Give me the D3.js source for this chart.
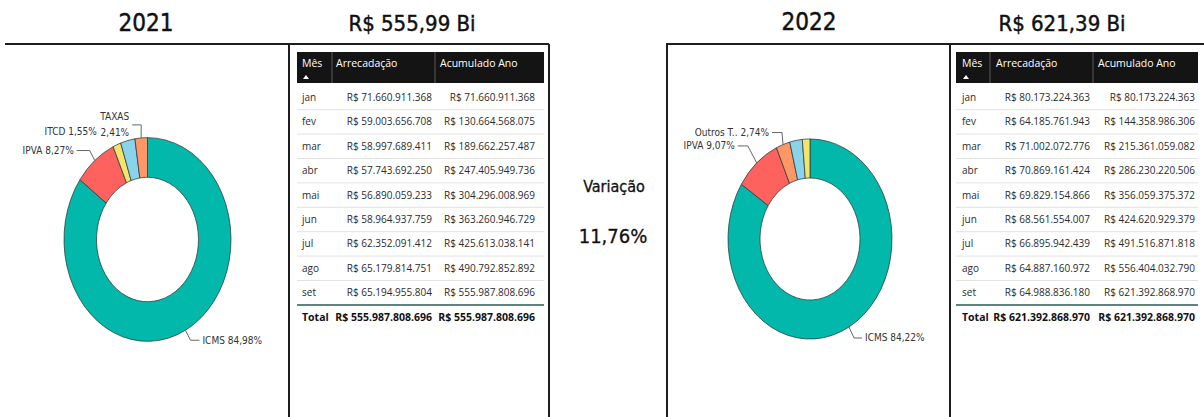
<!DOCTYPE html>
<html>
<head>
<meta charset="utf-8">
<script src="https://cdn.jsdelivr.net/npm/d3@7"></script>
<style>
  body { margin: 0; background: #fff; }
  .din { font-family: "DejaVu Sans Condensed", "DejaVu Sans", sans-serif; }
  .tab { font-family: "Open Sans", "Noto Sans", sans-serif; }
</style>
</head>
<body>
<svg id="chart"></svg>
<script>
w = 1204;
h = 417;

// composicao da arrecadacao (%)
var categorias2021 = ["ICMS", "IPVA", "ITCD", "Outros Tributos", "TAXAS"];
var percentuais2021 = [84.98, 8.27, 1.55, 2.79, 2.41];
var cores2021 = ["#01B8AA", "#FD625E", "#F5E36C", "#8AD4EB", "#FE9666"];

var categorias2022 = ["ICMS", "IPVA", "Outros Tributos", "TAXAS", "ITCD"];
var percentuais2022 = [84.22, 9.07, 2.74, 2.47, 1.50];
var cores2022 = ["#01B8AA", "#FD625E", "#FE9666", "#8AD4EB", "#F5E36C"];

// tabela mensal
var meses = ["jan", "fev", "mar", "abr", "mai", "jun", "jul", "ago", "set"];
var arrecadacao2021 = [71660911368, 59003656708, 58997689411, 57743692250, 56890059233,
                       58964937759, 62352091412, 65179814751, 65194955804];
var acumulado2021 = [71660911368, 130664568075, 189662257487, 247405949736, 304296008969,
                     363260946729, 425613038141, 490792852892, 555987808696];
var arrecadacao2022 = [80173224363, 64185761943, 71002072776, 70869161424, 69829154866,
                       68561554007, 66895942439, 64887160972, 64988836180];
var acumulado2022 = [80173224363, 144358986306, 215361059082, 286230220506, 356059375372,
                     424620929379, 491516871818, 556404032790, 621392868970];
var totais2021 = [555987808696, 555987808696];
var totais2022 = [621392868970, 621392868970];

var titulos = ["2021", "R$ 555,99 Bi", "2022", "R$ 621,39 Bi"];
var variacao = ["Variação", "11,76%"];

var ptBR = d3.formatLocale({decimal: ",", thousands: ".", grouping: [3], currency: ["R$ ", ""]});
var fmtMoeda = function(v) { return "R$ " + ptBR.format(",.0f")(v); };
var fmtPct = ptBR.format(",.2f");

var svg = d3.select('#chart').attr('width', w).attr('height', h);

// molduras
var frame = svg.append('g').attr('stroke', '#1e1e1e').attr('stroke-width', 2).attr('fill', 'none');
frame.append('path').attr('d', 'M5,44H549M289,44V417M549,44V417');
frame.append('path').attr('d', 'M667,417V44H1204M950,44V417');

// titulos
svg.append('g').attr('class', 'din').attr('fill', '#111').attr('text-anchor', 'middle')
  .attr('stroke', '#111').attr('stroke-width', 0.45)
  .selectAll('text')
  .data([[146, 31, 24], [412, 31, 22], [809, 30, 24], [1062, 31, 22]])
  .enter().append('text')
    .attr('x', function(d) { return d[0]; })
    .attr('y', function(d) { return d[1]; })
    .attr('font-size', function(d) { return d[2]; })
    .text(function(d, i) { return titulos[i]; });

var vg = svg.append('g').attr('class', 'din').attr('fill', '#111').attr('text-anchor', 'middle')
  .attr('stroke', '#111').attr('stroke-width', 0.3);
vg.append('text').attr('x', 614).attr('y', 192).attr('font-size', 16).text(variacao[0]);
vg.append('text').attr('x', 613).attr('y', 243).attr('font-size', 20).text(variacao[1]);

function drawDonut(cfg) {
  var pie = d3.pie().sort(null).value(function(d) { return d; });
  var arcs = pie(cfg.valores);
  var arc = d3.arc().innerRadius(cfg.r0).outerRadius(cfg.r1);

  var g = svg.append('g')
    .attr('transform', 'translate(' + cfg.cx + ',' + cfg.cy + ') scale(1,' + cfg.sy + ')');
  g.selectAll('path').data(arcs).enter().append('path')
    .attr('d', arc)
    .attr('fill', function(d, i) { return cfg.cores[i]; })
    .attr('stroke', '#2a3a38')
    .attr('stroke-opacity', 0.75)
    .attr('stroke-width', 1)
    .attr('vector-effect', 'non-scaling-stroke');

  var lg = svg.append('g').attr('class', 'din');
  cfg.rotulos.forEach(function(r) {
    var a = (arcs[r.i].startAngle + arcs[r.i].endAngle) / 2;
    var ax = cfg.cx + cfg.r1 * Math.sin(a);
    var ay = cfg.cy - cfg.r1 * Math.cos(a) * cfg.sy;
    var ex = ax + r.dx, ey = ay + r.dy, hx = ex + r.len;
    if (!r.semLinha) {
      lg.append('path')
        .attr('d', 'M' + ax + ',' + ay + 'L' + ex + ',' + ey + 'H' + hx)
        .attr('fill', 'none').attr('stroke', '#666').attr('stroke-width', 1);
    }
    var pct = fmtPct(cfg.valores[r.i]) + '%';
    var linhas = r.linhas ? [r.linhas[0], pct] : [(r.nome || cfg.nomes[r.i]) + ' ' + pct];
    var tx = r.len >= 0 ? hx + 3 : hx - 3;
    var t = lg.append('text')
      .attr('x', tx)
      .attr('text-anchor', r.len >= 0 ? 'start' : 'end')
      .attr('font-size', 10)
      .attr('fill', '#333');
    linhas.forEach(function(s, k) {
      t.append('tspan').attr('x', tx)
        .attr('y', ey + 3.5 + (k - (linhas.length - 1) / 2) * 16)
        .text(s);
    });
  });
}

drawDonut({
  cx: 147.5, cy: 239.5, r0: 51, r1: 83.5, sy: 1.22,
  valores: percentuais2021, nomes: categorias2021, cores: cores2021,
  rotulos: [
    {i: 0, dx: 5, dy: 10, len: 9},
    {i: 1, dx: -5, dy: -10, len: -13},
    {i: 2, dx: -17, dy: -13, len: -0.1, semLinha: true},
    {i: 4, dx: 0, dy: -13, len: -9, linhas: ["TAXAS"]}
  ]
});

drawDonut({
  cx: 810, cy: 239, r0: 50, r1: 82, sy: 1.22,
  valores: percentuais2022, nomes: categorias2022, cores: cores2022,
  rotulos: [
    {i: 0, dx: 5, dy: 11, len: 8},
    {i: 1, dx: -9, dy: -17, len: -10},
    {i: 2, dx: -1, dy: -12, len: -10, nome: "Outros T.."}
  ]
});

function drawTable(cfg) {
  var y = d3.scaleLinear().domain([0, 1]).range([97.5, 121.9]);
  var g = svg.append('g').attr('class', 'tab');

  g.append('rect').attr('x', cfg.x0).attr('y', 52).attr('width', cfg.x1 - cfg.x0).attr('height', 31)
    .attr('fill', '#141414');
  g.selectAll('line.sep').data(cfg.seps).enter().append('line')
    .attr('x1', function(d) { return d; }).attr('x2', function(d) { return d; })
    .attr('y1', 52).attr('y2', 83).attr('stroke', '#5a5a5a');
  var cab = ["Mês", "Arrecadação", "Acumulado Ano"];
  g.selectAll('text.cab').data(cab).enter().append('text')
    .attr('x', function(d, i) { return cfg.hx[i]; })
    .attr('y', 67).attr('font-size', 10.5).attr('fill', '#fff')
    .text(function(d) { return d; });
  g.append('path')
    .attr('d', 'M' + (cfg.hx[0] + 1) + ',79l3,-4l3,4z').attr('fill', '#fff');

  // linhas divisorias
  g.selectAll('line.row').data(meses.slice(0, -1)).enter().append('line')
    .attr('x1', cfg.x0).attr('x2', cfg.x1)
    .attr('y1', function(d, i) { return y(i + 0.5); })
    .attr('y2', function(d, i) { return y(i + 0.5); })
    .attr('stroke', '#e2e2e2');
  g.append('line').attr('x1', cfg.x0).attr('x2', cfg.x1)
    .attr('y1', y(meses.length - 0.5)).attr('y2', y(meses.length - 0.5))
    .attr('stroke', '#5f837f').attr('stroke-width', 2);

  var linhas = g.selectAll('g.linha').data(meses).enter().append('g')
    .attr('transform', function(d, i) { return 'translate(0,' + (y(i) + 3.5) + ')'; })
    .attr('font-size', 10).attr('fill', '#2b2b2b');
  linhas.append('text').attr('x', cfg.hx[0]).text(function(d) { return d; });
  linhas.append('text').attr('x', cfg.rx[0]).attr('text-anchor', 'end')
    .text(function(d, i) { return fmtMoeda(cfg.arrec[i]); });
  linhas.append('text').attr('x', cfg.rx[1]).attr('text-anchor', 'end')
    .text(function(d, i) { return fmtMoeda(cfg.acum[i]); });

  var tot = g.append('g').attr('transform', 'translate(0,' + (y(meses.length) + 3.5) + ')')
    .attr('font-size', 10.5).attr('font-weight', 'bold').attr('fill', '#111');
  tot.append('text').attr('x', cfg.hx[0]).text('Total');
  tot.selectAll('text.v').data(cfg.totais).enter().append('text')
    .attr('x', function(d, i) { return cfg.rx[i]; }).attr('text-anchor', 'end')
    .text(function(d) { return fmtMoeda(d); });
}

drawTable({
  x0: 297, x1: 544, seps: [332, 435], hx: [302, 336, 440], rx: [432, 535],
  arrec: arrecadacao2021, acum: acumulado2021, totais: totais2021
});
drawTable({
  x0: 956, x1: 1198, seps: [990, 1093], hx: [962, 996, 1098], rx: [1090, 1195],
  arrec: arrecadacao2022, acum: acumulado2022, totais: totais2022
});
</script>
</body>
</html>
